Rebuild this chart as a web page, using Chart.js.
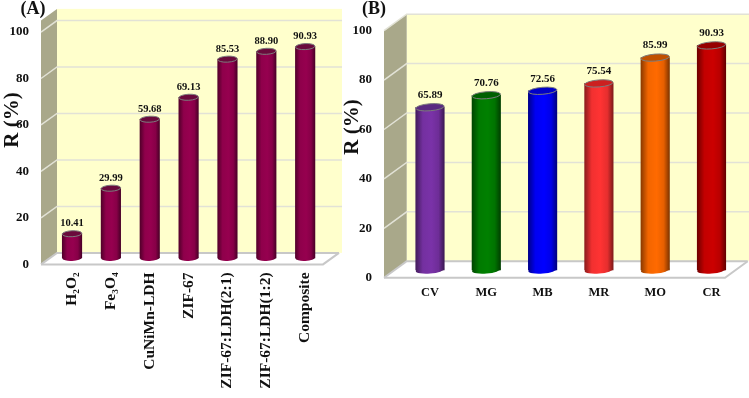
<html><head>
<title>R (%) panels</title>
<style>
  body { margin: 0; background: #fff; }
  canvas { position: absolute; top: 0; }
  #chartA { left: 0; }
  #chartB { left: 343px; }
</style>
<script src="https://cdn.jsdelivr.net/npm/chart.js"></script>
</head>
<body>
<canvas id="chartA" width="343" height="398" style="width:343px;height:398px"></canvas>
<canvas id="chartB" width="406" height="398" style="width:406px;height:398px"></canvas>

<script>
const yTicks = [0, 20, 40, 60, 80, 100];

const labelsA = ['H₂O₂', 'Fe₃O₄', 'CuNiMn-LDH', 'ZIF-67', 'ZIF-67:LDH(2:1)', 'ZIF-67:LDH(1:2)', 'Composite'];
const valuesA = [10.41, 29.99, 59.68, 69.13, 85.53, 88.90, 90.93];
const colorsA = ['#96004f', '#96004f', '#96004f', '#96004f', '#96004f', '#96004f', '#96004f'];
const capsA = ['#6a0a3c', '#6a0a3c', '#6a0a3c', '#6a0a3c', '#6a0a3c', '#6a0a3c', '#6a0a3c'];

const labelsB = ['CV', 'MG', 'MB', 'MR', 'MO', 'CR'];
const valuesB = [65.89, 70.76, 72.56, 75.54, 85.99, 90.93];
const colorsB = ['#7a32a8', '#008000', '#0000ff', '#ff3333', '#ff6a00', '#cc0000'];
const capsB = ['#5a2a80', '#006000', '#0000c8', '#cc2020', '#c05000', '#960000'];

const serif = "'Liberation Serif', 'Times New Roman', serif";

// darker at both edges, like a lit cylinder
function shade(hex, f) {
  const n = parseInt(hex.slice(1), 16);
  const c = [n >> 16, (n >> 8) & 255, n & 255].map(v => Math.round(v * f));
  return `rgb(${c[0]},${c[1]},${c[2]})`;
}

const box3d = {
  id: 'box3d',
  beforeDraw(chart, args, o) {
    const { ctx, chartArea: a, scales: { y } } = chart;
    const right = a.right + o.extra;
    const top = y.getPixelForValue(y.max);
    const zero = y.getPixelForValue(0);
    ctx.save();
    // back wall
    ctx.fillStyle = '#ffffcc';
    ctx.fillRect(a.left + o.dx, top - o.dy, right + o.wallExtra - a.left, zero - top);
    // side wall
    ctx.fillStyle = '#a9a88a';
    ctx.beginPath();
    ctx.moveTo(a.left, top);
    ctx.lineTo(a.left + o.dx, top - o.dy);
    ctx.lineTo(a.left + o.dx, zero - o.dy);
    ctx.lineTo(a.left, zero);
    ctx.closePath();
    ctx.fill();
    // floor
    ctx.fillStyle = '#ffffff';
    ctx.beginPath();
    ctx.moveTo(a.left, zero);
    ctx.lineTo(a.left + o.dx, zero - o.dy);
    ctx.lineTo(right + o.dx, zero - o.dy);
    ctx.lineTo(right, zero);
    ctx.closePath();
    ctx.fill();
    // grid lines
    y.ticks.forEach(t => {
      const p = y.getPixelForValue(t.value);
      ctx.strokeStyle = t.value === 0 ? '#c8c8c8' : '#e2e2d6';
      ctx.lineWidth = t.value === 0 ? 2 : 1.5;
      ctx.beginPath();
      ctx.moveTo(a.left, p);
      ctx.lineTo(a.left + o.dx, p - o.dy);
      ctx.lineTo(right + o.dx + (t.value === 0 ? 0 : o.wallExtra), p - o.dy);
      ctx.stroke();
    });
    ctx.strokeStyle = '#c8c8c8';
    ctx.lineWidth = 2;
    ctx.beginPath();
    ctx.moveTo(a.left, zero);
    ctx.lineTo(right, zero);
    ctx.lineTo(right + o.dx, zero - o.dy);
    ctx.stroke();
    ctx.restore();
  },
  beforeDatasetsDraw(chart, args, o) {
    chart.ctx.save();
    chart.ctx.translate(o.barDx, -o.barDy);
  },
  afterDatasetsDraw(chart, args, o) {
    const ctx = chart.ctx;
    const meta = chart.getDatasetMeta(0);
    const values = chart.data.datasets[0].data;
    meta.data.forEach((bar, i) => {
      const hw = bar.width / 2;
      // rounded bottom
      ctx.fillStyle = bar.options.backgroundColor;
      ctx.beginPath();
      ctx.ellipse(bar.x, bar.base, hw, o.capH, o.tilt, 0, Math.PI * 2);
      ctx.fill();
      // top cap
      ctx.fillStyle = o.caps[i];
      ctx.strokeStyle = '#7c7c7c';
      ctx.lineWidth = 1;
      ctx.beginPath();
      ctx.ellipse(bar.x, bar.y, hw, o.capH, o.tilt, 0, Math.PI * 2);
      ctx.fill();
      ctx.stroke();
      // value on top
      ctx.fillStyle = '#111';
      ctx.font = `bold ${o.valueSize}px ${serif}`;
      ctx.textAlign = 'center';
      ctx.textBaseline = 'middle';
      ctx.fillText(values[i].toFixed(2), bar.x, bar.y - o.valueGap);
    });
    ctx.restore();
  },
  afterDraw(chart, args, o) {
    const ctx = chart.ctx;
    ctx.save();
    ctx.fillStyle = '#111';
    ctx.textAlign = 'center';
    ctx.textBaseline = 'middle';
    ctx.font = `bold 18px ${serif}`;
    ctx.fillText(o.panel, o.panelX, 9);
    ctx.translate(o.titleX, o.titleY);
    ctx.rotate(-Math.PI / 2);
    ctx.font = `bold 21px ${serif}`;
    ctx.fillText('R (%)', 0, 0);
    ctx.restore();
  }
};

function makePanel(id, labels, values, colors, o) {
  return new Chart(document.getElementById(id), {
    type: 'bar',
    plugins: [box3d],
    data: {
      labels: labels,
      datasets: [{
        data: values,
        barThickness: o.barWidth,
        clip: false,
        backgroundColor(c) {
          const col = colors[c.dataIndex] || colors[0];
          const x = c.chart.scales.x;
          if (!x || c.dataIndex === undefined) return col;
          const mid = x.getPixelForValue(c.dataIndex);
          if (!Number.isFinite(mid)) return col;
          const hw = o.barWidth / 2;
          const g = c.chart.ctx.createLinearGradient(mid - hw, 0, mid + hw, 0);
          g.addColorStop(0, shade(col, 0.55));
          g.addColorStop(0.25, shade(col, 0.95));
          g.addColorStop(0.55, col);
          g.addColorStop(0.8, shade(col, 0.9));
          g.addColorStop(1, shade(col, 0.5));
          return g;
        }
      }]
    },
    options: {
      responsive: false,
      animation: false,
      layout: { padding: { left: 0, right: o.padRight, top: o.top, bottom: 0 } },
      plugins: {
        legend: { display: false },
        tooltip: { enabled: false },
        box3d: o
      },
      scales: {
        x: {
          afterFit(s) { s.height = o.xHeight; },
          grid: { display: false },
          border: { display: false },
          ticks: {
            autoSkip: false,
            color: '#111',
            padding: o.xPad,
            labelOffset: o.barDx,
            minRotation: o.xRot,
            maxRotation: o.xRot,
            font: { family: serif, weight: 'bold', size: o.xSize }
          }
        },
        y: {
          min: 0,
          max: o.max,
          afterFit(s) { s.width = o.yWidth; },
          afterBuildTicks(s) { s.ticks = yTicks.map(v => ({ value: v })); },
          grid: { display: false },
          border: { display: false },
          ticks: {
            color: '#111',
            padding: 4,
            font: { family: serif, weight: 'bold', size: 13 }
          }
        }
      }
    }
  });
}

makePanel('chartA', labelsA, valuesA, colorsA, {
  caps: capsA, panel: '(A)', panelX: 33, titleX: 13, titleY: 120,
  max: 105, top: 20.4, xHeight: 133.6, yWidth: 41, padRight: 30,
  dx: 16, dy: 11.5, extra: 10, wallExtra: 3, barDx: 11.6, barDy: 6.5,
  barWidth: 19.5, capH: 3, tilt: -0.05, valueSize: 10.5, valueGap: 10,
  xPad: 0, xRot: 90, xSize: 15.5
});

makePanel('chartB', labelsB, valuesB, colorsB, {
  caps: capsB, panel: '(B)', panelX: 31, titleX: 10, titleY: 127,
  max: 100, top: 30.7, xHeight: 120.3, yWidth: 41, padRight: 27.2,
  dx: 22.7, dy: 16.5, extra: 3.2, wallExtra: 2, barDx: 17.85, barDy: 7.7,
  barWidth: 28.5, capH: 3.5, tilt: -0.08, valueSize: 11, valueGap: 12,
  xPad: 0, xRot: 0, xSize: 12.5
});
</script>
</body></html>
